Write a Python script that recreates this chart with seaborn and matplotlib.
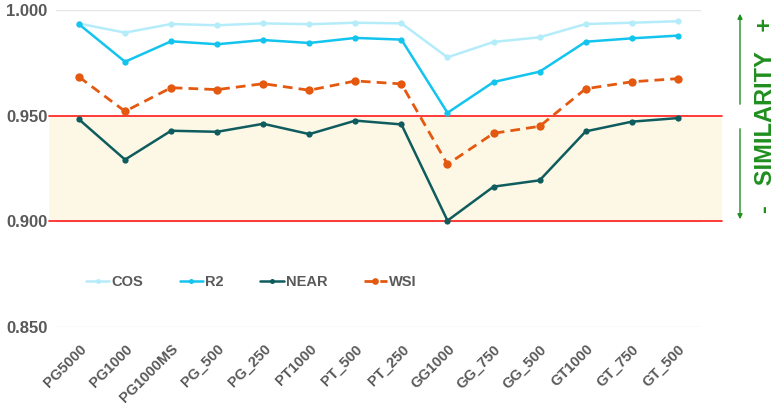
import matplotlib
matplotlib.use("Agg")
import matplotlib.pyplot as plt
import seaborn as sns
import pandas as pd
from matplotlib.patches import Rectangle

categories = ["PG5000", "PG1000", "PG1000MS", "PG_500", "PG_250", "PT1000", "PT_500",
              "PT_250", "GG1000", "GG_750", "GG_500", "GT1000", "GT_750", "GT_500"]
cos_vals = [0.9937, 0.9894, 0.9935, 0.9929, 0.9938, 0.9934, 0.9941,
            0.9938, 0.9777, 0.9850, 0.9872, 0.9935, 0.9941, 0.9948]
r2_vals = [0.9934, 0.9756, 0.9853, 0.9839, 0.9859, 0.9845, 0.9869,
           0.9861, 0.9514, 0.9660, 0.9709, 0.9851, 0.9867, 0.9880]
near_vals = [0.9483, 0.9292, 0.9429, 0.9424, 0.9462, 0.9413, 0.9477,
             0.9459, 0.9003, 0.9164, 0.9194, 0.9426, 0.9472, 0.9489]
wsi_vals = [0.9684, 0.9521, 0.9633, 0.9624, 0.9652, 0.9621, 0.9665,
            0.9651, 0.9270, 0.9417, 0.9450, 0.9628, 0.9661, 0.9676]
y_ticks = [0.850, 0.900, 0.950, 1.000]
band_low, band_high = 0.900, 0.950

sns.set_theme(style="white")
plt.rcParams["font.family"] = ["Liberation Sans", "DejaVu Sans"]
plt.rcParams["font.weight"] = "bold"

fig = plt.figure(figsize=(7.77, 4.05), dpi=100)
ax = fig.add_axes([0.072, 0.1933, 0.830, 0.7813])

df = pd.DataFrame({"cat": categories, "COS": cos_vals, "R2": r2_vals,
                   "NEAR": near_vals, "WSI": wsi_vals})

gray = "#595959"
styles = {
    "COS": dict(color="#b5ecfa", lw=1.8, ms=4.5, ls="-"),
    "R2": dict(color="#12c4ee", lw=1.8, ms=4.5, ls="-"),
    "NEAR": dict(color="#0e5c5e", lw=1.8, ms=4.5, ls="-"),
    "WSI": dict(color="#e4580f", lw=2.0, ms=6, ls=(0, (3.5, 2.2))),
}
for name, st in styles.items():
    sns.lineplot(data=df, x="cat", y=name, ax=ax, color=st["color"], lw=st["lw"],
                 marker="o", markersize=st["ms"], markeredgewidth=0, linestyle=st["ls"],
                 label=name, sort=False, zorder=4)

# shaded band and red limit lines (extend slightly beyond axes)
x0, x1 = -0.65, 13.95
ax.add_patch(Rectangle((x0, band_low), x1 - x0, band_high - band_low, facecolor="#fdf8e5",
                       edgecolor="none", zorder=1, clip_on=False))
for yv in (band_low, band_high):
    ax.plot([x0, x1], [yv, yv], color="#ff1a1a", lw=1.2, zorder=3, clip_on=False)

ax.set_xlim(-0.5, 13.5)
ax.set_ylim(0.85, 1.0)
ax.set_yticks(y_ticks)
ax.set_yticklabels([f"{v:.3f}" for v in y_ticks])
ax.grid(axis="y", color="#e6e6e6", lw=1.0, zorder=0)
ax.set_axisbelow(True)
for s in ax.spines.values():
    s.set_visible(False)
ax.set_xlabel("")
ax.set_ylabel("")
ax.tick_params(axis="y", length=0, pad=6, labelsize=12, labelcolor=gray)
ax.tick_params(axis="x", length=0, pad=11, labelsize=10.5, labelcolor=gray)
plt.setp(ax.get_xticklabels(), rotation=45, ha="right", rotation_mode="anchor", fontweight="bold")
plt.setp(ax.get_yticklabels(), fontweight="bold")

leg = ax.legend(loc="center", bbox_to_anchor=(0.303, 0.141), ncol=4, frameon=False,
                handlelength=1.6, handletextpad=0.15, columnspacing=2.5, markerscale=0.8,
                prop={"weight": "bold", "size": 10.5})
for t in leg.get_texts():
    t.set_color(gray)

# similarity annotation on the right
green = "#1f8f1f"
fig.patches.append(matplotlib.patches.FancyArrowPatch((740 / 777, 1 - 107 / 405), (740 / 777, 1 - 11 / 405),
                   transform=fig.transFigure, arrowstyle="-|>", mutation_scale=7, color=green, lw=1.0))
fig.patches.append(matplotlib.patches.FancyArrowPatch((740 / 777, 1 - 126 / 405), (740 / 777, 1 - 222 / 405),
                   transform=fig.transFigure, arrowstyle="-|>", mutation_scale=7, color=green, lw=1.0))
fig.text(766 / 777, 1 - 115 / 405, "-   SIMILARITY   +", rotation=90, ha="center", va="center",
         color=green, fontsize=17, fontweight="bold")

fig.savefig("out.png", dpi=100)
